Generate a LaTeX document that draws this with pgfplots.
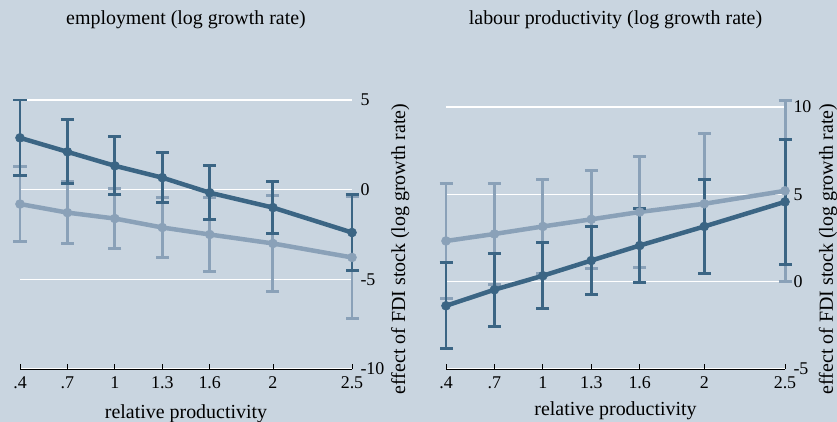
\documentclass[border=0pt]{standalone}
\usepackage{pgfplots}
\pgfplotsset{compat=1.18}
\usepackage{fontspec}
\setmainfont{Liberation Serif}
\definecolor{bg}{HTML}{C9D5E0}
\definecolor{dark}{HTML}{3B6584}
\definecolor{light}{HTML}{8AA1B8}
\pgfplotsset{
  panel/.style={
    scale only axis, clip=false,
    axis background/.style={fill=none},
    axis x line*=bottom, axis y line*=right,
    y axis line style={draw=none},
    x axis line style={black, line width=0.8pt},
    xmin=0.4, xmax=2.5,
    xtick={0.4,0.7,1,1.3,1.6,2,2.5},
    xticklabels={.4,.7,1,1.3,1.6,2,2.5},
    xtick style={black, line width=0.8pt},
    xtick align=inside, major tick length=5bp,
    ytick style={draw=none},
    ymajorgrids, grid style={white, line width=1.2pt},
    tick label style={font=\fontsize{18}{18}\selectfont},
    xticklabel style={yshift=-4bp},
    yticklabel style={anchor=west, xshift=5bp},
    label style={font=\fontsize{20}{20}\selectfont},
    title style={font=\fontsize{20}{20}\selectfont, anchor=center, yshift=-6bp},
  },
  ser/.style={color=#1, line width=4.5pt, mark=*, mark size=4.5bp,
    mark options={fill=#1, draw=#1, line width=0.5pt},
    error bars/.cd, y dir=both, y explicit,
    error bar style={color=#1, line width=3pt},
    error mark options={color=#1, line width=3pt, mark size=6.5bp, rotate=90}},
}
\begin{document}
\begin{tikzpicture}
\fill[bg] (0,0) rectangle (837bp,422bp);
% left panel
\begin{axis}[panel, at={(20bp,53bp)}, anchor=south west,
  width=332bp, height=269bp, ymin=-10, ymax=5,
  ytick={-10,-5,0,5}, yticklabels={-10,-5,0,5},
  title={employment (log growth rate)},
  title style={at={(axis description cs:0.5,1.297)}},
  xlabel={relative productivity},
  xlabel style={at={(axis description cs:0.5,-0.167)}, anchor=center},
  ylabel={effect of FDI stock (log growth rate)},
  ylabel style={at={(axis description cs:1.145,0.446)}, anchor=center, rotate=0},
  ]
\addplot[ser=light] coordinates {
  (0.4,-0.8) +- (0,2.1)
  (0.7,-1.28) +- (0,1.72)
  (1.0,-1.61) +- (0,1.67)
  (1.3,-2.11) +- (0,1.67)
  (1.6,-2.5) +- (0,2.05)
  (2.0,-3.0) +- (0,2.67)
  (2.5,-3.78) +- (0,3.39)
};
\addplot[ser=dark] coordinates {
  (0.4,2.89) +- (0,2.11)
  (0.7,2.11) +- (0,1.78)
  (1.0,1.33) +- (0,1.61)
  (1.3,0.67) +- (0,1.39)
  (1.6,-0.17) +- (0,1.5)
  (2.0,-1.0) +- (0,1.44)
  (2.5,-2.39) +- (0,2.11)
};
\end{axis}
% right panel
\begin{axis}[panel, at={(446bp,53bp)}, anchor=south west,
  width=339bp, height=262bp, ymin=-5, ymax=10,
  ytick={-5,0,5,10}, yticklabels={-5,0,5,10},
  title={labour productivity (log growth rate)},
  title style={at={(axis description cs:0.5,1.332)}},
  xlabel={relative productivity},
  xlabel style={at={(axis description cs:0.5,-0.161)}, anchor=center},
  ylabel={effect of FDI stock (log growth rate)},
  ylabel style={at={(axis description cs:1.127,0.458)}, anchor=center, rotate=0},
  ]
\addplot[ser=light] coordinates {
  (0.4,2.33) +- (0,3.3)
  (0.7,2.73) +- (0,2.9)
  (1.0,3.16) +- (0,2.7)
  (1.3,3.57) +- (0,2.8)
  (1.6,3.99) +- (0,3.19)
  (2.0,4.46) +- (0,4.0)
  (2.5,5.2) +- (0,5.2)
};
\addplot[ser=dark] coordinates {
  (0.4,-1.38) +- (0,2.47)
  (0.7,-0.46) +- (0,2.1)
  (1.0,0.34) +- (0,1.88)
  (1.3,1.21) +- (0,1.93)
  (1.6,2.07) +- (0,2.13)
  (2.0,3.16) +- (0,2.7)
  (2.5,4.57) +- (0,3.59)
};
\end{axis}
\pgfresetboundingbox
\path[use as bounding box] (0,0) rectangle (837bp,422bp);
\end{tikzpicture}
\end{document}
